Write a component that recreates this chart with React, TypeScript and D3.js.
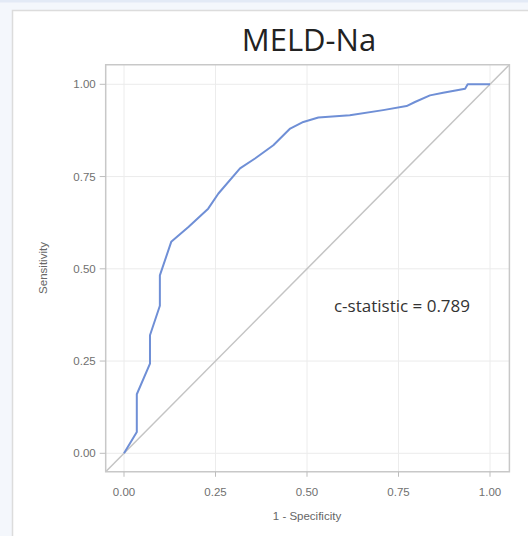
import React from "react";
import * as d3 from "d3";

// ROC curve (1 - specificity, sensitivity)
const fpr = [0, 0.035, 0.035, 0.071, 0.071, 0.098, 0.098, 0.129, 0.176, 0.23, 0.258, 0.317, 0.358, 0.408, 0.454, 0.49, 0.531, 0.617, 0.708, 0.772, 0.795, 0.836, 0.872, 0.932, 0.939, 1.0];
const tpr = [0, 0.058, 0.16, 0.243, 0.32, 0.4, 0.482, 0.573, 0.613, 0.663, 0.704, 0.772, 0.799, 0.835, 0.88, 0.898, 0.91, 0.916, 0.93, 0.941, 0.952, 0.97, 0.977, 0.988, 1.0, 1.0];
const ticks = [0, 0.25, 0.5, 0.75, 1];
const title = "MELD-Na";
const note = "c-statistic = 0.789";

const W = 528;
const H = 536;

export default function App() {
  const x = d3.scaleLinear().domain([0, 1]).range([124, 490]);
  const y = d3.scaleLinear().domain([0, 1]).range([453.3, 84.3]);
  const lo = -0.05;
  const hi = 1.053;

  const pts: [number, number][] = fpr.map((f, i) => [f, tpr[i]]);
  const line = d3
    .line<[number, number]>()
    .x((d) => x(d[0]))
    .y((d) => y(d[1]));

  const font = "'Liberation Sans', Arial, sans-serif";
  const sans = "'Open Sans', 'Noto Sans', sans-serif";

  return (
    <div style={{ position: "fixed", left: 0, top: 0, width: W, height: H }}>
      <svg width={W} height={H} style={{ display: "block" }}>
        {/* page background and panel */}
        <rect x={0} y={0} width={W} height={H} fill="#f4f7fc" />
        <rect x={0} y={0} width={W} height={2.5} fill="#e3eaf6" />
        <rect x={12.5} y={10.5} width={W} height={H} fill="#ffffff" stroke="#dcdcdc" strokeWidth={1.5} />

        <text x={309} y={51} textAnchor="middle" fontFamily={sans} fontSize={31} fill="#222">
          {title}
        </text>

        {/* grid */}
        {ticks.map((t) => (
          <g key={"g" + t}>
            <line x1={x(t)} x2={x(t)} y1={y(hi)} y2={y(lo)} stroke="#ececec" strokeWidth={1} />
            <line x1={x(lo)} x2={x(hi)} y1={y(t)} y2={y(t)} stroke="#ececec" strokeWidth={1} />
          </g>
        ))}

        {/* reference diagonal */}
        <line x1={x(lo)} y1={y(lo)} x2={x(hi)} y2={y(hi)} stroke="#c4c4c4" strokeWidth={1.5} />

        <path d={line(pts) ?? ""} fill="none" stroke="#6f8fd6" strokeWidth={2} strokeLinejoin="round" />

        {/* frame */}
        <rect
          x={x(lo)}
          y={y(hi)}
          width={x(hi) - x(lo)}
          height={y(lo) - y(hi)}
          fill="none"
          stroke="#c8c8c8"
          strokeWidth={1.5}
        />

        {/* y axis */}
        {ticks.map((t) => (
          <g key={"y" + t}>
            <line x1={x(lo) - 6} x2={x(lo)} y1={y(t)} y2={y(t)} stroke="#bdbdbd" />
            <text x={x(lo) - 10} y={y(t)} dy="0.35em" textAnchor="end" fontFamily={font} fontSize={11.5} fill="#707070">
              {t.toFixed(2)}
            </text>
          </g>
        ))}

        {/* x axis */}
        {ticks.map((t) => (
          <g key={"x" + t}>
            <line x1={x(t)} x2={x(t)} y1={y(lo)} y2={y(lo) + 5} stroke="#bdbdbd" />
            <text x={x(t)} y={492} dy="0.35em" textAnchor="middle" fontFamily={font} fontSize={11.5} fill="#707070">
              {t.toFixed(2)}
            </text>
          </g>
        ))}

        <text
          transform={`translate(43,268) rotate(-90)`}
          textAnchor="middle"
          dy="0.35em"
          fontFamily={font}
          fontSize={11.5}
          fill="#666"
        >
          Sensitivity
        </text>
        <text x={307} y={516} dy="0.35em" textAnchor="middle" fontFamily={font} fontSize={11.5} fill="#666">
          1 - Specificity
        </text>

        <text x={402} y={306} dy="0.35em" textAnchor="middle" fontFamily={sans} fontSize={17} fill="#333">
          {note}
        </text>
      </svg>
    </div>
  );
}
